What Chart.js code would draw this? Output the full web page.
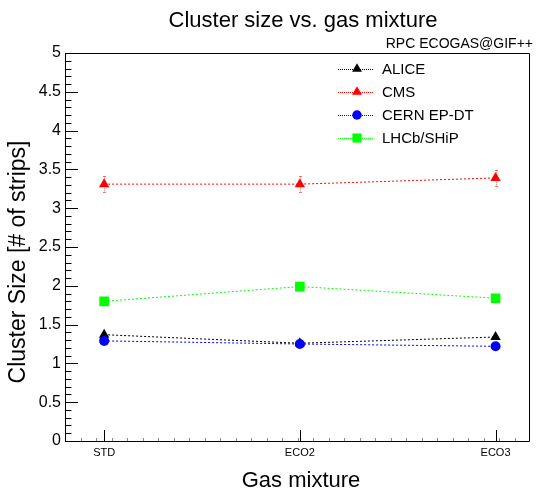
<!DOCTYPE html>
<html>
<head>
<meta charset="utf-8">
<script src="https://cdn.jsdelivr.net/npm/chart.js@4.4.1/dist/chart.umd.min.js"></script>
<style>
html,body{margin:0;padding:0;background:#fff;}
canvas{display:block;}
</style>
</head>
<body>
<canvas id="c" width="537" height="492" style="width:537px;height:492px"></canvas>
<script>
// ---- data ----
const categories = ['STD', 'ECO2', 'ECO3'];
const seriesNames = ['ALICE', 'CMS', 'CERN EP-DT', 'LHCb/SHiP'];
const aliceValues = [1.37, 1.26, 1.34];
const cmsValues   = [3.31, 3.31, 3.39];
const cernValues  = [1.29, 1.25, 1.22];
const lhcbValues  = [1.80, 1.99, 1.84];
const aliceErrors = [0.02, 0.02, 0.02];
const cmsErrors   = [0.10, 0.10, 0.10];
const cernErrors  = [0.02, 0.02, 0.02];
const lhcbErrors  = [0.02, 0.02, 0.02];
const yTickValues = [0, 0.5, 1, 1.5, 2, 2.5, 3, 3.5, 4, 4.5, 5];
const chartTitle = 'Cluster size vs. gas mixture';
const subTitle = 'RPC ECOGAS@GIF++';
const xTitle = 'Gas mixture';
const yTitle = 'Cluster Size [# of strips]';

const FONT = "'Liberation Sans', Arial, Helvetica, sans-serif";

function pts(vals){ return vals.map((v,i)=>({x:i, y:v})); }

const styles = [
  {color:'#000000', style:'triangle', radius:6},
  {color:'#ff0000', style:'triangle', radius:6},
  {color:'#0000ff', style:'circle', radius:5},
  {color:'#00ff00', style:'rect', radius:6.8}
];
const allValues = [aliceValues, cmsValues, cernValues, lhcbValues];
const allErrors = [aliceErrors, cmsErrors, cernErrors, lhcbErrors];

const datasets = seriesNames.map((name, k) => ({
  label: name,
  data: pts(allValues[k]),
  borderColor: styles[k].color,
  backgroundColor: styles[k].color,
  pointBackgroundColor: styles[k].color,
  pointBorderColor: styles[k].color,
  pointBorderWidth: 0,
  pointStyle: styles[k].style,
  pointRadius: styles[k].radius,
  pointHoverRadius: styles[k].radius,
  borderWidth: 1,
  borderDash: [2, 2],
  tension: 0,
  fill: false,
  order: 4 - k,
  errors: allErrors[k]
}));

const rootPlugin = {
  id: 'rootStyle',
  beforeDatasetsDraw(chart) {
    const ctx = chart.ctx;
    const xs = chart.scales.x, ys = chart.scales.y;
    const a = chart.chartArea;
    ctx.save();
    // frame
    ctx.strokeStyle = '#000';
    ctx.lineWidth = 1;
    ctx.setLineDash([]);
    ctx.beginPath();
    ctx.rect(Math.round(a.left)+0.5, Math.round(a.top)+0.5, Math.round(a.right-a.left)-1, Math.round(a.bottom-a.top));
    ctx.stroke();
    // y ticks (inside)
    const yMin = ys.min, yMax = ys.max;
    for (let i = 0; i <= Math.round((yMax - yMin) / 0.1); i++) {
      const v = yMin + i * 0.1;
      const py = Math.round(ys.getPixelForValue(v)) + 0.5;
      const major = (i % 5 === 0);
      const len = major ? 13 : 6.5;
      ctx.beginPath();
      ctx.moveTo(a.left, py);
      ctx.lineTo(a.left + len, py);
      ctx.stroke();
    }
    // x major ticks
    categories.forEach((c, i) => {
      const px = Math.round(xs.getPixelForValue(i)) + 0.5;
      ctx.beginPath();
      ctx.moveTo(px, a.bottom);
      ctx.lineTo(px, a.bottom - 11);
      ctx.stroke();
    });
    // x minor ticks
    ctx.strokeStyle = '#888';
    const n = 30;
    for (let k = 1; k < n; k++) {
      const v = xs.min + (xs.max - xs.min) * k / n;
      const px = Math.round(xs.getPixelForValue(v)) + 0.5;
      ctx.beginPath();
      ctx.moveTo(px, a.bottom);
      ctx.lineTo(px, a.bottom - 3);
      ctx.stroke();
    }
    // error bars
    ctx.globalAlpha = 0.55;
    chart.data.datasets.forEach((ds) => {
      ctx.strokeStyle = ds.borderColor;
      ctx.lineWidth = 1;
      ds.data.forEach((p, i) => {
        const e = ds.errors[i];
        const px = Math.round(xs.getPixelForValue(p.x)) + 0.5;
        const y1 = ys.getPixelForValue(p.y + e);
        const y2 = ys.getPixelForValue(p.y - e);
        ctx.setLineDash([1, 1]);
        ctx.beginPath();
        ctx.moveTo(px, y1);
        ctx.lineTo(px, y2);
        ctx.stroke();
        ctx.setLineDash([]);
        ctx.beginPath();
        ctx.moveTo(px - 1.5, Math.round(y1) + 0.5);
        ctx.lineTo(px + 1.5, Math.round(y1) + 0.5);
        ctx.moveTo(px - 1.5, Math.round(y2) + 0.5);
        ctx.lineTo(px + 1.5, Math.round(y2) + 0.5);
        ctx.stroke();
      });
    });
    ctx.restore();
  },
  afterDraw(chart) {
    const ctx = chart.ctx;
    ctx.save();
    ctx.fillStyle = '#000';
    // title
    ctx.font = '22px ' + FONT;
    ctx.textAlign = 'center';
    ctx.textBaseline = 'alphabetic';
    ctx.fillText(chartTitle, 303, 27);
    // subtitle
    ctx.font = '14px ' + FONT;
    ctx.textAlign = 'right';
    ctx.fillText(subTitle, 533, 48);
    // x title
    ctx.font = '22px ' + FONT;
    ctx.textAlign = 'center';
    ctx.fillText(xTitle, 301, 487);
    // y title
    ctx.save();
    ctx.translate(25, 262);
    ctx.rotate(-Math.PI / 2);
    ctx.font = '23px ' + FONT;
    ctx.textAlign = 'center';
    ctx.fillText(yTitle, 0, 0);
    ctx.restore();
    // legend
    const lx0 = 338, lx1 = 373, mx = 357, tx = 382;
    const rowY = [69, 92, 115, 138];
    chart.data.datasets.forEach((ds, k) => {
      const y = rowY[k];
      ctx.strokeStyle = ds.borderColor;
      ctx.lineWidth = 1;
      ctx.setLineDash([1, 1]);
      ctx.beginPath();
      ctx.moveTo(lx0, y + 0.5);
      ctx.lineTo(lx1, y + 0.5);
      ctx.stroke();
      ctx.setLineDash([]);
      ctx.fillStyle = ds.backgroundColor;
      Chart.helpers.drawPoint(ctx, {pointStyle: ds.pointStyle, radius: ds.pointRadius * 0.95, rotation: 0, borderWidth: 0}, mx, y);
      ctx.fillStyle = '#000';
      ctx.font = '15px ' + FONT;
      ctx.textAlign = 'left';
      ctx.textBaseline = 'middle';
      ctx.fillText(ds.label, tx, y + 1);
    });
    ctx.restore();
  }
};

new Chart(document.getElementById('c'), {
  type: 'line',
  data: { datasets },
  options: {
    responsive: false,
    animation: false,
    devicePixelRatio: 1,
    layout: { padding: { top: 53, right: 3, left: 0, bottom: 0 } },
    plugins: { legend: { display: false }, tooltip: { enabled: false }, title: { display: false } },
    scales: {
      x: {
        type: 'linear',
        min: -0.2,
        max: 2.177,
        grid: { display: false, drawTicks: false },
        border: { display: false },
        afterBuildTicks: (s) => { s.ticks = categories.map((c, i) => ({ value: i })); },
        afterFit: (s) => { s.height = 51; },
        ticks: {
          autoSkip: false,
          maxRotation: 0,
          padding: 5,
          color: '#000',
          font: { family: FONT, size: 11 },
          callback: (v) => categories[v] !== undefined ? categories[v] : ''
        }
      },
      y: {
        type: 'linear',
        min: 0,
        max: 5,
        grid: { display: false, drawTicks: false },
        border: { display: false },
        afterBuildTicks: (s) => { s.ticks = yTickValues.map(v => ({ value: v })); },
        afterFit: (s) => { s.width = 65; },
        ticks: {
          padding: 4,
          color: '#000',
          font: { family: FONT, size: 16 },
          callback: (v) => String(v)
        }
      }
    }
  },
  plugins: [rootPlugin]
});
</script>
</body>
</html>
